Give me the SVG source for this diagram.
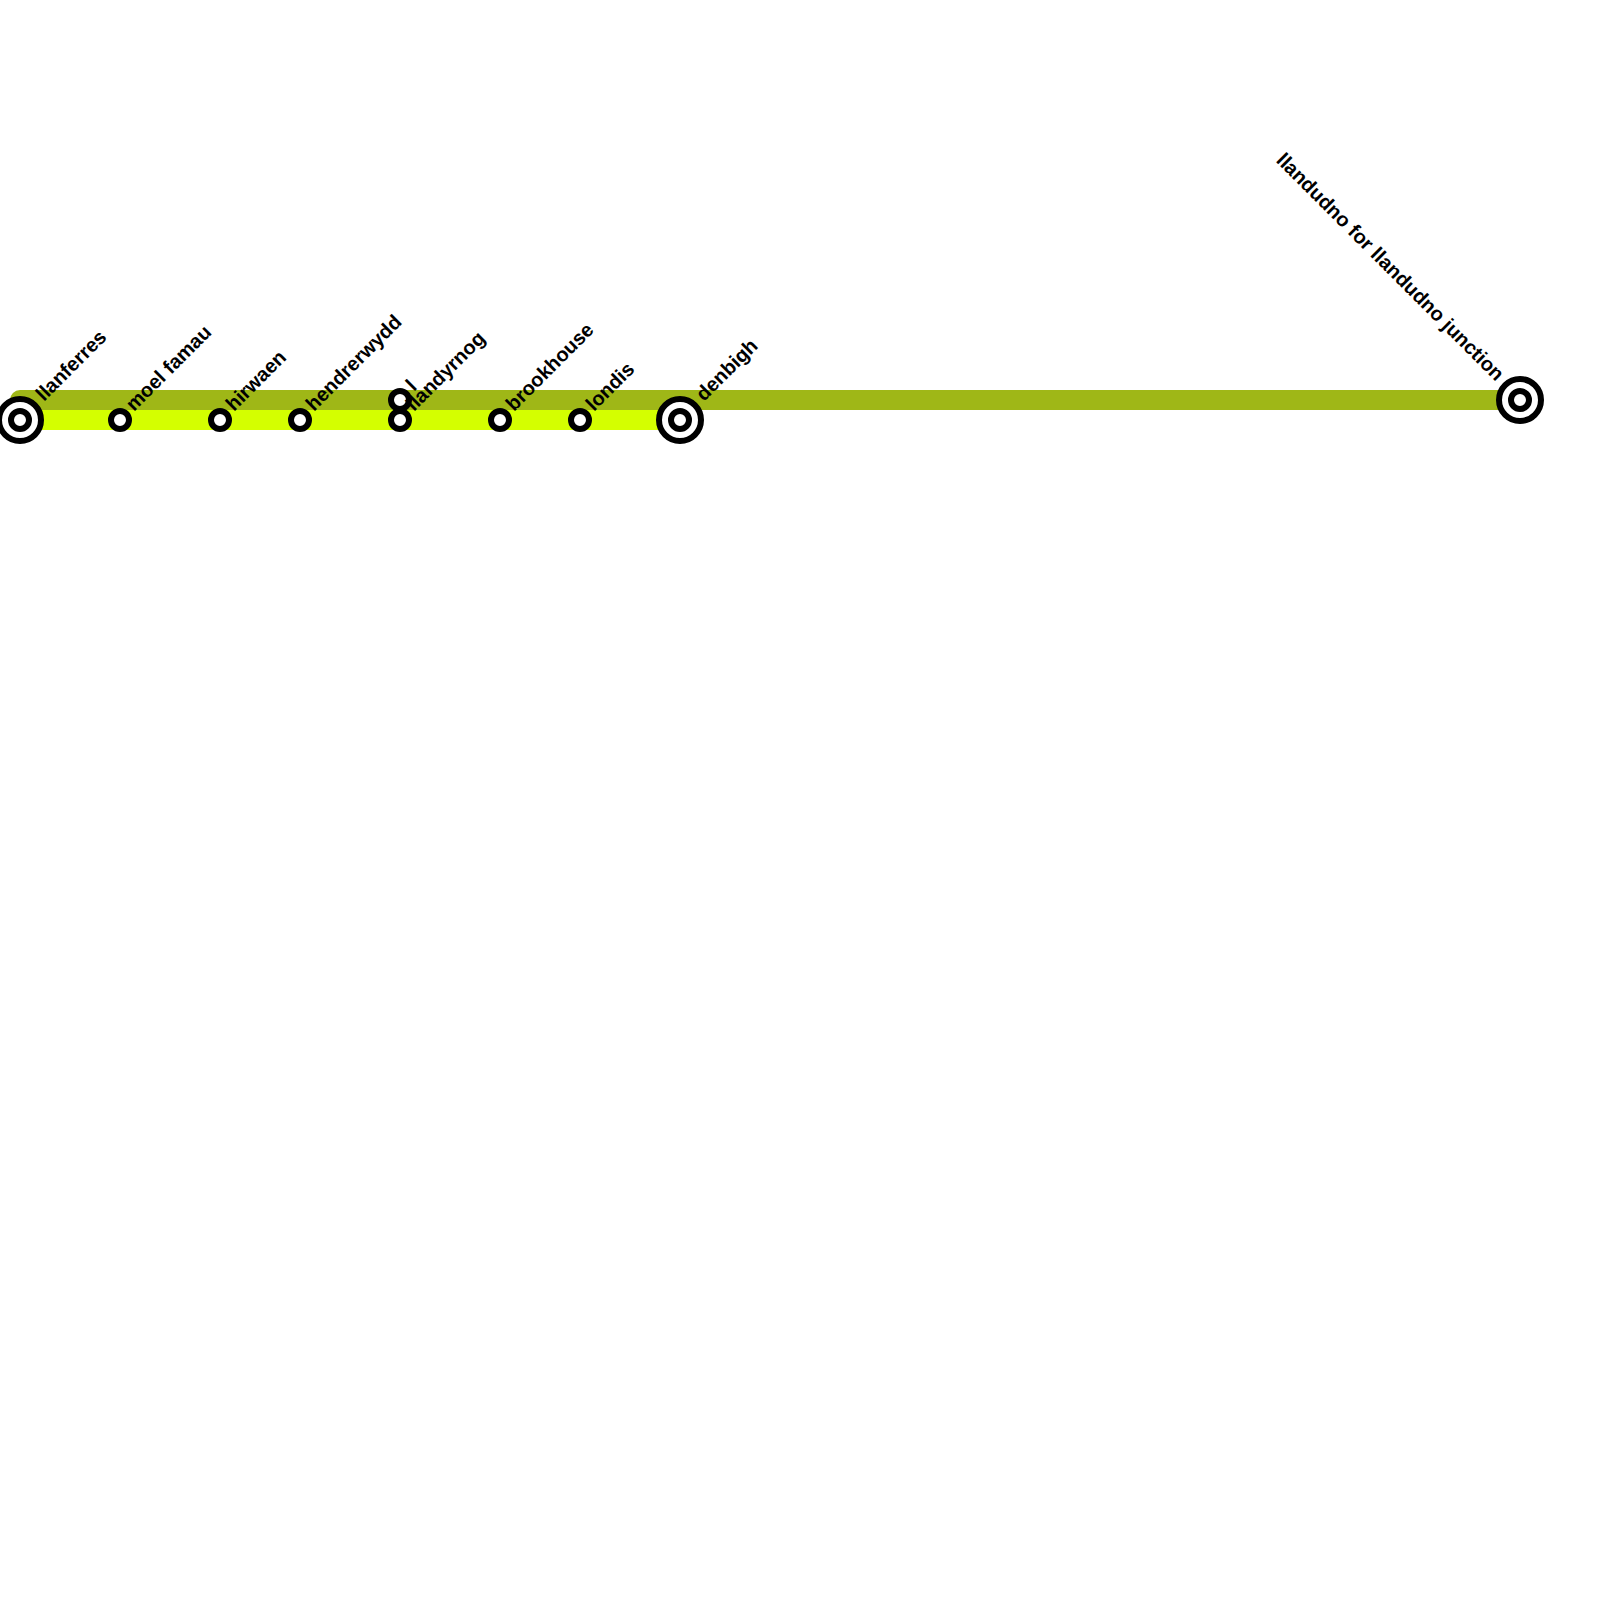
<svg xmlns="http://www.w3.org/2000/svg" width="1600" height="1600" viewBox="0 0 1600 1600">
<style>
.line{fill:none;stroke-width:20;stroke-linecap:round}
.s{fill:#fff;stroke:#000;stroke-width:6}
.b{fill:#fff;stroke:#000;stroke-width:6}
text{font-family:"Liberation Sans",Arial,sans-serif;font-weight:bold;font-size:20px;fill:#000}
</style>
<rect width="1600" height="1600" fill="#fff"/>
<g id="connectors">
<path class="line" d="M20 400H1520" stroke="#9fb717"/>
<path class="line" d="M20 420H680" stroke="#d4ff00"/>
</g>
<g id="llanferres"><circle class="b" cx="20" cy="420" r="21"/><circle class="s" cx="20" cy="420" r="9"/><text transform="translate(44 402) rotate(-45)">llanferres</text></g>
<g id="moel-famau"><circle class="s" cx="120" cy="420" r="9"/><text transform="translate(134 412) rotate(-45)">moel famau</text></g>
<g id="hirwaen"><circle class="s" cx="220" cy="420" r="9"/><text transform="translate(234 412) rotate(-45)">hirwaen</text></g>
<g id="hendrerwydd"><circle class="s" cx="300" cy="420" r="9"/><text transform="translate(314 412) rotate(-45)">hendrerwydd</text></g>
<g id="l"><circle class="s" cx="400" cy="400" r="9"/><text transform="translate(414 392) rotate(-45)">l</text></g>
<g id="llandyrnog"><circle class="s" cx="400" cy="420" r="9"/><text transform="translate(414 412) rotate(-45)">llandyrnog</text></g>
<g id="brookhouse"><circle class="s" cx="500" cy="420" r="9"/><text transform="translate(514 412) rotate(-45)">brookhouse</text></g>
<g id="londis"><circle class="s" cx="580" cy="420" r="9"/><text transform="translate(594 412) rotate(-45)">londis</text></g>
<g id="denbigh"><circle class="b" cx="680" cy="420" r="21"/><circle class="s" cx="680" cy="420" r="9"/><text transform="translate(704 402) rotate(-45)">denbigh</text></g>
<g id="llandudno"><circle class="b" cx="1520" cy="400" r="21"/><circle class="s" cx="1520" cy="400" r="9"/><text text-anchor="end" transform="translate(1496 382) rotate(45)">llandudno for llandudno junction</text></g>
</svg>
